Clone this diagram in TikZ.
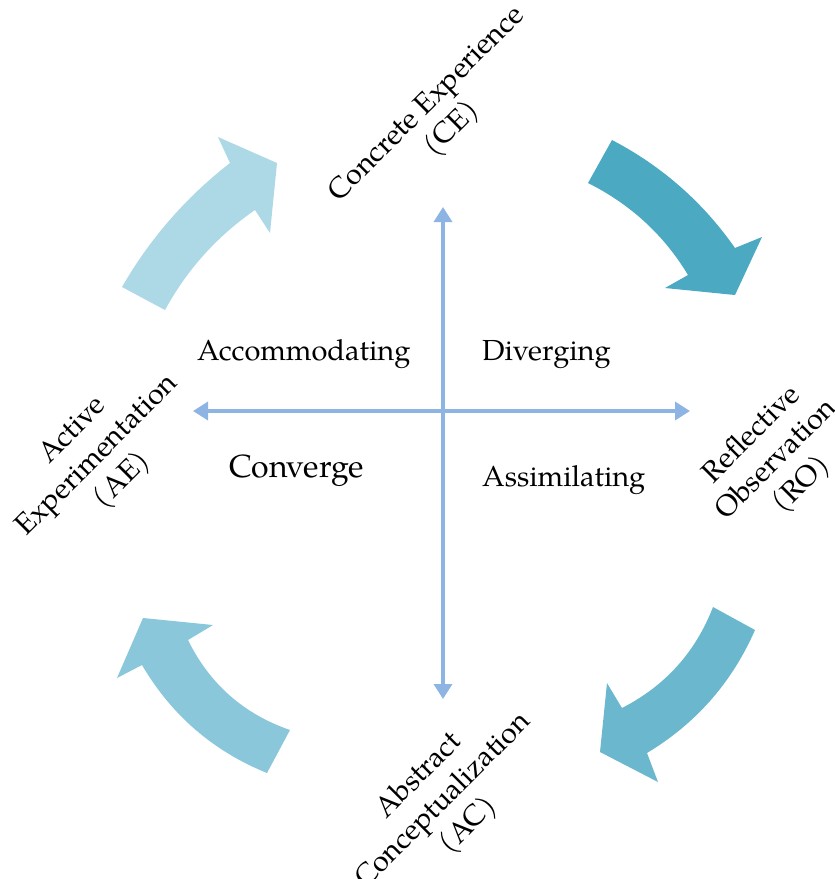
\documentclass[tikz,border=0pt]{standalone}
\usepackage{fontspec}
\setmainfont{TeX Gyre Pagella}
\usetikzlibrary{arrows.meta}
\definecolor{axisblue}{RGB}{142,180,227}
\definecolor{cycA}{RGB}{173,216,230}
\definecolor{cycB}{RGB}{75,169,194}
\definecolor{cycC}{RGB}{107,183,206}
\definecolor{cycD}{RGB}{139,199,219}
\begin{document}
\begin{tikzpicture}[x=1pt,y=-1pt,
  axis/.style={draw=axisblue,line width=3.5pt,
    {Triangle[width=18pt,length=15pt]}-{Triangle[width=18pt,length=15pt]}},
  quad/.style={font=\fontsize{29}{34}\selectfont,anchor=base west,inner sep=0pt},
  stage/.style={font=\fontsize{29}{35}\selectfont,align=center,rotate=45,inner sep=0pt}]
\useasboundingbox (0,0) rectangle (835,879);

% cycle arrows (curved bands with a broad head)
\fill[cycA] (122,287) .. controls (149.9,238.6) and (185.9,197.3) .. (230,163)
  -- (218,137) -- (277,163) -- (270,233) -- (255,210)
  .. controls (217.1,236.2) and (187.1,269.5) .. (165,310) -- cycle;
\fill[cycB] (612,140) .. controls (661.8,166) and (702.8,202) .. (735,248)
  -- (762,237) -- (735,295) -- (665,288) -- (688,275)
  .. controls (663.7,234.6) and (630.4,204.3) .. (588,183) -- cycle;
\fill[cycC] (713,607) .. controls (695.5,652.3) and (665.1,685.9) .. (622,708)
  -- (607,683) -- (600,752) -- (658,782) -- (647,753)
  .. controls (696,723.5) and (732,682.5) .. (755,630) -- cycle;
\fill[cycD] (290,730) .. controls (243.7,714) and (209.7,684) .. (188,640)
  -- (213,625) -- (143,618) -- (117,678) -- (142,665)
  .. controls (171.5,715.2) and (213.2,751.2) .. (267,773) -- cycle;

% axes
\coordinate (top) at (443,207);
\coordinate (bot) at (443,699);
\coordinate (lft) at (193,411);
\coordinate (rgt) at (690,411);
\draw[axis] (bot) -- (top);
\draw[axis] (lft) -- (rgt);

% stages
\node[stage] (ce) at (440,117) {Concrete Experience\\(CE)};
\node[stage] (ae) at (98,456) {Active\\Experimentation\\(AE)};
\node[stage] (ro) at (777,460) {Reflective\\Observation\\(RO)};
\node[stage] (ac) at (444,801) {Abstract\\Conceptualization\\(AC)};

% learning styles
\node[quad] (acc) at (197,360) {Accommodating};
\node[quad] (div) at (482,360) {Diverging};
\node[quad,font=\fontsize{32}{36}\selectfont] (con) at (229,477) {Converge};
\node[quad] (ass) at (482,486) {Assimilating};
\end{tikzpicture}
\end{document}
